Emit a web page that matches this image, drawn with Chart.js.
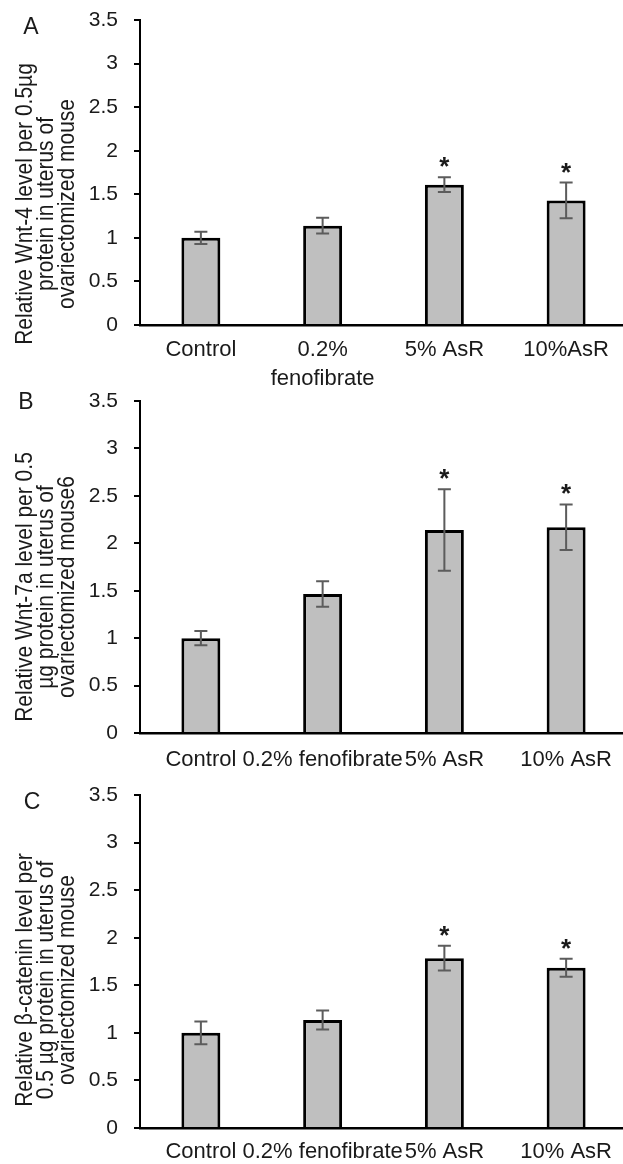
<!DOCTYPE html>
<html><head><meta charset="utf-8">
<script src="https://cdn.jsdelivr.net/npm/chart.js@4.4.1/dist/chart.umd.min.js"></script>
<style>
html,body{margin:0;padding:0;background:#fff;width:623px;height:1164px;overflow:hidden;position:relative;}
.p{position:absolute;left:0;width:628px;height:388px;}
</style></head><body>
<div class="p" style="top:0"><canvas id="cA" width="628" height="388"></canvas></div>
<div class="p" style="top:388px"><canvas id="cB" width="628" height="388"></canvas></div>
<div class="p" style="top:776px"><canvas id="cC" width="628" height="388"></canvas></div>
<script>
// ---- data ----
const yTickLabels = ['0', '0.5', '1', '1.5', '2', '2.5', '3', '3.5'];
const categoriesA = ['Control', ['0.2%', 'fenofibrate'], '5% AsR', '10%AsR'];
const categoriesB = ['Control', '0.2% fenofibrate', '5% AsR', '10% AsR'];
const categoriesC = ['Control', '0.2% fenofibrate', '5% AsR', '10% AsR'];
const wnt4Mean = [1.00, 1.14, 1.61, 1.43];
const wnt4Err = [0.07, 0.09, 0.085, 0.205];
const wnt7aMean = [1.00, 1.465, 2.14, 2.17];
const wnt7aErr = [0.075, 0.135, 0.43, 0.24];
const cateninMean = [1.00, 1.135, 1.785, 1.685];
const cateninErr = [0.12, 0.10, 0.13, 0.095];
const significant = [false, false, true, true];
const titleA = ['Relative Wnt-4 level per 0.5\u00b5g', 'protein in uterus of', 'ovariectomized mouse'];
const titleB = ['Relative Wnt-7a level per 0.5', '\u00b5g protein in uterus of', 'ovariectomized mouse6'];
const titleC = ['Relative \u03b2-catenin level per', '0.5 \u00b5g protein in uterus of', 'ovariectomized mouse'];

const FAMILY = '"Liberation Sans", Arial, Helvetica, sans-serif';
const TEXT = '#1a1a1a';

const decor = {
  id: 'decor',
  afterDatasetsDraw(chart, args, o) {
    const ctx = chart.ctx, ys = chart.scales.y, meta = chart.getDatasetMeta(0);
    ctx.save();
    ctx.strokeStyle = '#5c5c5c';
    ctx.lineWidth = 2;
    o.mean.forEach((m, i) => {
      const x = meta.data[i].x;
      const t = ys.getPixelForValue(m + o.err[i]);
      const b = ys.getPixelForValue(m - o.err[i]);
      ctx.beginPath();
      ctx.moveTo(x, t); ctx.lineTo(x, b);
      ctx.moveTo(x - 6.5, t); ctx.lineTo(x + 6.5, t);
      ctx.moveTo(x - 6.5, b); ctx.lineTo(x + 6.5, b);
      ctx.stroke();
      if (o.sig[i]) {
        ctx.fillStyle = TEXT;
        ctx.font = 'bold 26px ' + FAMILY;
        ctx.textAlign = 'center';
        ctx.textBaseline = 'alphabetic';
        const mt = ctx.measureText('*');
        const cy = t - 15;
        const base = cy - (mt.actualBoundingBoxDescent - mt.actualBoundingBoxAscent) / 2;
        ctx.fillText('*', x, base);
      }
    });
    ctx.fillStyle = TEXT;
    ctx.font = '21px ' + FAMILY;
    ctx.textAlign = 'center';
    ctx.textBaseline = 'middle';
    o.title.forEach((line, k) => {
      ctx.save();
      ctx.translate(o.titleX[k], o.titleY);
      ctx.rotate(-Math.PI / 2);
      ctx.scale(1, 1.1);
      ctx.fillText(line, 0, 0);
      ctx.restore();
    });
    ctx.font = '23px ' + FAMILY;
    ctx.fillText(o.letter, o.letterX, o.letterY);
    ctx.restore();
  }
};

function zeroPad(s) {
  s.paddingTop = 0; s.paddingBottom = 0; s.paddingLeft = 0; s.paddingRight = 0;
}

function makeChart(id, labels, mean, err, title, cfg) {
  return new Chart(document.getElementById(id), {
    type: 'bar',
    data: {
      labels: labels,
      datasets: [{
        data: mean,
        backgroundColor: '#bfbfbf',
        borderColor: '#000',
        borderWidth: 3,
        barPercentage: 0.32,
        categoryPercentage: 1
      }]
    },
    options: {
      responsive: false,
      animation: false,
      events: [],
      layout: { autoPadding: false, padding: { top: cfg.top, right: 1, left: 0, bottom: 0 } },
      plugins: {
        legend: { display: false },
        tooltip: { enabled: false },
        decor: {
          mean: mean, err: err, sig: significant, title: title,
          titleX: [26, 47, 68], titleY: cfg.titleY,
          letter: cfg.letter, letterX: cfg.letterX, letterY: cfg.letterY
        }
      },
      scales: {
        x: {
          grid: { display: false, drawTicks: false },
          border: { display: true, color: '#000', width: 2.5 },
          ticks: {
            font: { family: FAMILY, size: 22, lineHeight: 1.32 },
            color: TEXT, padding: cfg.xpad, maxRotation: 0, minRotation: 0, autoSkip: false
          },
          afterFit(s) { s.height = cfg.xh; zeroPad(s); }
        },
        y: {
          min: 0, max: 3.5,
          ticks: {
            stepSize: 0.5,
            callback: (v, i) => yTickLabels[i],
            font: { family: FAMILY, size: 21 },
            color: TEXT, padding: 16
          },
          grid: { display: true, drawOnChartArea: false, drawTicks: true, tickLength: 6, color: '#000', lineWidth: 2 },
          border: { display: true, color: '#000', width: 2 },
          afterFit(s) { s.width = 140; zeroPad(s); }
        }
      }
    },
    plugins: [decor]
  });
}

makeChart('cA', categoriesA, wnt4Mean, wnt4Err, titleA,
  { top: 20, xh: 63, xpad: 10.5, titleY: 204, letter: 'A', letterX: 31, letterY: 28 });
makeChart('cB', categoriesB, wnt7aMean, wnt7aErr, titleB,
  { top: 13, xh: 43, xpad: 12, titleY: 199, letter: 'B', letterX: 26, letterY: 15 });
makeChart('cC', categoriesC, cateninMean, cateninErr, titleC,
  { top: 19, xh: 36, xpad: 9, titleY: 204, letter: 'C', letterX: 32, letterY: 27 });
</script>
</body></html>
